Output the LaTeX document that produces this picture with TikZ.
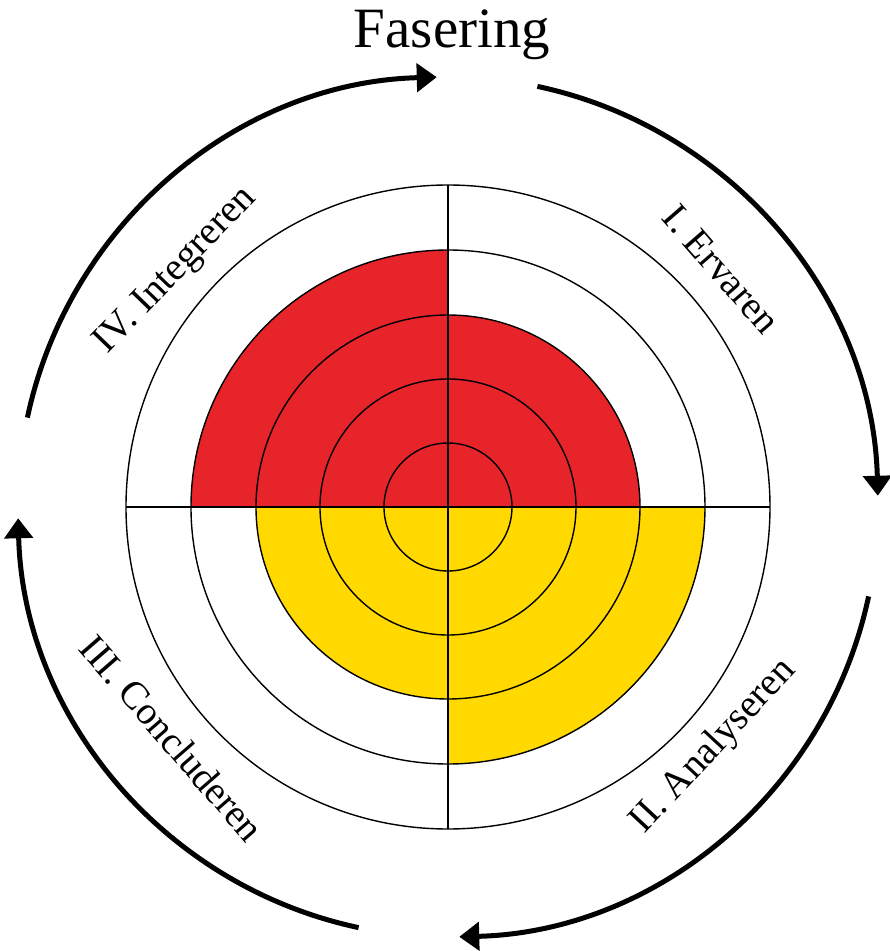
\documentclass[tikz,border=0pt]{standalone}
\usepackage{fontspec}
\setmainfont{Liberation Serif}
\usetikzlibrary{arrows.meta}
\definecolor{quadred}{RGB}{230,36,41}
\definecolor{quadyellow}{RGB}{255,217,0}
\begin{document}
\begin{tikzpicture}[
  ring/.style={draw=black, line width=1.4pt},
  cycarrow/.style={line width=5pt, -{Triangle[length=20pt,width=28pt]}},
  phase/.style={font=\fontsize{39}{46}\selectfont, inner sep=0pt},
]
\useasboundingbox (-448pt,-444pt) rectangle (442pt,507pt);
\fill[white] (-448pt,-444pt) rectangle (442pt,507pt);
\coordinate (c) at (0,0);
% coloured sectors
\fill[quadred] (c) -- (180:257pt) arc[start angle=180,end angle=90,radius=257pt] -- cycle;
\fill[quadred] (c) -- (90:192pt) arc[start angle=90,end angle=0,radius=192pt] -- cycle;
\fill[quadyellow] (c) -- (270:257pt) arc[start angle=270,end angle=360,radius=257pt] -- cycle;
\fill[quadyellow] (c) -- (180:192pt) arc[start angle=180,end angle=270,radius=192pt] -- cycle;
% rings
\foreach \r in {64,128,192,257,322} \draw[ring] (c) circle[radius=\r pt];
\coordinate (w) at (180:322pt);
\coordinate (e) at (0:322pt);
\coordinate (n) at (90:322pt);
\coordinate (s) at (270:322pt);
\draw[ring] (w) -- (e);
\draw[ring] (s) -- (n);
% cycle arrows
\draw[cycarrow] (168:430pt) arc[start angle=168,end angle=91.5,radius=430pt];
\draw[cycarrow] (78:430pt) arc[start angle=78,end angle=1.5,radius=430pt];
\draw[cycarrow] (-12:430pt) arc[start angle=-12,end angle=-88.5,radius=430pt];
\draw[cycarrow] (-102:430pt) arc[start angle=-102,end angle=-178.5,radius=430pt];
% labels
\node[font=\fontsize{57}{68}\selectfont, inner sep=0pt] (title) at (4pt,472pt) {Fasering};
\node[phase, rotate=-49] (p1) at (41:362pt) {I. Ervaren};
\node[phase, rotate=47] (p2) at (-42:358pt) {II. Analyseren};
\node[phase, rotate=-49] (p3) at (220:360pt) {III. Concluderen};
\node[phase, rotate=46] (p4) at (139:360pt) {IV. Integreren};
\end{tikzpicture}
\end{document}
